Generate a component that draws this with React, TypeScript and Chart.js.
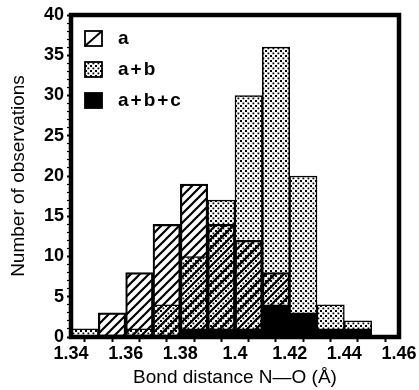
import React, { useEffect, useRef } from "react";
import { Chart, registerables } from "chart.js";

Chart.register(...registerables);

// Histogram bins (lower edge, width 0.01 Å)
const binStarts = [1.34, 1.35, 1.36, 1.37, 1.38, 1.39, 1.4, 1.41, 1.42, 1.43, 1.44];
const countsA = [0, 3, 8, 14, 19, 14, 12, 8, 0, 0, 0];
const countsAB = [1, 0, 1, 4, 10, 17, 30, 36, 20, 4, 2];
const countsABC = [0, 0, 0, 0, 1, 1, 1, 4, 3, 1, 1];
const seriesLabels = ["a", "a+b", "a+b+c"];
const binWidth = 0.01;
const xMin = 1.34;
const xMax = 1.46;
const yMin = 0;
const yMax = 40;
const xTitle = "Bond distance N\u2014O (\u00C5)";
const yTitle = "Number of observations";

function makeHatch(): CanvasPattern | string {
  const c = document.createElement("canvas");
  const s = 9;
  c.width = s;
  c.height = s;
  const g = c.getContext("2d");
  if (!g) return "#000";
  g.strokeStyle = "#000";
  g.lineWidth = 2.2;
  g.lineCap = "square";
  for (const off of [-s, 0, s]) {
    g.beginPath();
    g.moveTo(off, s);
    g.lineTo(off + s, 0);
    g.stroke();
  }
  const p = g.createPattern(c, "repeat");
  return p || "#000";
}

function makeDots(): CanvasPattern | string {
  const c = document.createElement("canvas");
  const s = 5;
  c.width = s;
  c.height = s;
  const g = c.getContext("2d");
  if (!g) return "#fff";
  g.fillStyle = "#fff";
  g.fillRect(0, 0, s, s);
  g.fillStyle = "#000";
  g.fillRect(0, 0, 2, 2);
  g.fillRect(2.5, 2.5, 1.8, 1.8);
  const p = g.createPattern(c, "repeat");
  return p || "#fff";
}

const FONT = "'Liberation Sans', Arial, Helvetica, sans-serif";

export default function App() {
  const ref = useRef<HTMLCanvasElement | null>(null);

  useEffect(() => {
    if (!ref.current) return;
    const hatch = makeHatch();
    const dots = makeDots();

    const toPoints = (arr: number[]) =>
      arr.map((v, i) => ({ x: binStarts[i] + binWidth / 2, y: v }));

    const framePlugin = {
      id: "frame",
      afterDatasetsDraw(chart: any) {
        const { ctx, chartArea } = chart;
        ctx.save();
        ctx.strokeStyle = "#000";
        ctx.lineWidth = 4.5;
        ctx.strokeRect(
          chartArea.left,
          chartArea.top,
          chartArea.right - chartArea.left,
          chartArea.bottom - chartArea.top
        );
        ctx.restore();
      },
    };

    const legendPlugin = {
      id: "innerLegend",
      afterDraw(chart: any) {
        const { ctx, chartArea } = chart;
        ctx.save();
        chart.data.datasets.forEach((ds: any, i: number) => {
          const bx = chartArea.left + 14;
          const by = chartArea.top + 16 + i * 31;
          const bw = 17;
          const bh = 15;
          ctx.fillStyle = "#fff";
          ctx.fillRect(bx, by, bw, bh);
          if (ds.backgroundColor === hatch) {
            ctx.strokeStyle = "#000";
            ctx.lineWidth = 2;
            ctx.beginPath();
            ctx.moveTo(bx, by + bh);
            ctx.lineTo(bx + bw, by);
            ctx.stroke();
          } else {
            ctx.fillStyle = ds.backgroundColor;
            ctx.fillRect(bx, by, bw, bh);
          }
          ctx.strokeStyle = "#000";
          ctx.lineWidth = 1.8;
          ctx.strokeRect(bx, by, bw, bh);
          ctx.fillStyle = "#000";
          ctx.font = `bold 19px ${FONT}`;
          (ctx as any).letterSpacing = "2px";
          ctx.textBaseline = "middle";
          ctx.textAlign = "left";
          ctx.fillText(ds.label, bx + 33, by + bh / 2);
        });
        ctx.restore();
      },
    };

    const chart = new Chart(ref.current, {
      type: "bar",
      data: {
        datasets: [
          {
            label: seriesLabels[0],
            data: toPoints(countsA),
            backgroundColor: hatch as any,
            borderColor: "#000",
            borderWidth: 1.5,
            borderSkipped: false,
            order: 1,
          },
          {
            label: seriesLabels[1],
            data: toPoints(countsAB),
            backgroundColor: dots as any,
            borderColor: "#000",
            borderWidth: 1.5,
            borderSkipped: false,
            order: 2,
          },
          {
            label: seriesLabels[2],
            data: toPoints(countsABC),
            backgroundColor: "#000",
            borderColor: "#000",
            borderWidth: 1.5,
            borderSkipped: false,
            order: 0,
          },
        ] as any,
      },
      options: {
        animation: false,
        responsive: true,
        maintainAspectRatio: false,
        layout: { padding: { left: 0, top: 15, right: 20, bottom: 0 } },
        datasets: {
          bar: {
            grouped: false,
            barPercentage: 1,
            categoryPercentage: 1,
          },
        } as any,
        plugins: {
          legend: { display: false },
          tooltip: { enabled: false },
        },
        scales: {
          x: {
            type: "linear",
            min: xMin,
            max: xMax,
            offset: false,
            afterFit: (scale: any) => {
              scale.height = 53;
            },
            ticks: {
              stepSize: binWidth,
              autoSkip: false,
              maxRotation: 0,
              padding: 1,
              color: "#000",
              font: { family: FONT, size: 18, weight: "bold" },
              callback: (v: any) => {
                const n = Math.round(Number(v) * 100);
                if (n % 2 !== 0) return "";
                return String(parseFloat((n / 100).toFixed(2)));
              },
            },
            grid: {
              display: true,
              drawOnChartArea: false,
              drawTicks: true,
              tickLength: 5,
              tickWidth: 2,
              tickColor: "#000",
              color: "#000",
            },
            border: { display: false },
            title: {
              display: true,
              text: xTitle,
              color: "#000",
              font: { family: FONT, size: 19, weight: "normal" },
              padding: { top: 0, bottom: 1 },
            },
          },
          y: {
            type: "linear",
            min: yMin,
            max: yMax,
            afterFit: (scale: any) => {
              scale.width = 71;
            },
            ticks: {
              stepSize: 1,
              autoSkip: false,
              padding: 3,
              color: "#000",
              font: { family: FONT, size: 18, weight: "bold" },
              callback: (v: any) => (Number(v) % 5 === 0 ? String(v) : ""),
            },
            grid: {
              display: true,
              drawOnChartArea: false,
              drawTicks: true,
              tickLength: 4,
              tickWidth: (c: any) => (c.tick && c.tick.value % 5 === 0 ? 2 : 1.2),
              tickColor: "#000",
              color: "#000",
            },
            border: { display: false },
            title: {
              display: true,
              text: yTitle,
              color: "#000",
              font: { family: FONT, size: 19, weight: "normal" },
              padding: { top: 7, bottom: 0 },
            },
          },
        },
      },
      plugins: [framePlugin, legendPlugin],
    });

    return () => chart.destroy();
  }, []);

  return (
    <div
      style={{
        position: "fixed",
        left: 0,
        top: 0,
        width: 419,
        height: 390,
        background: "#fff",
      }}
    >
      <canvas ref={ref} />
    </div>
  );
}
